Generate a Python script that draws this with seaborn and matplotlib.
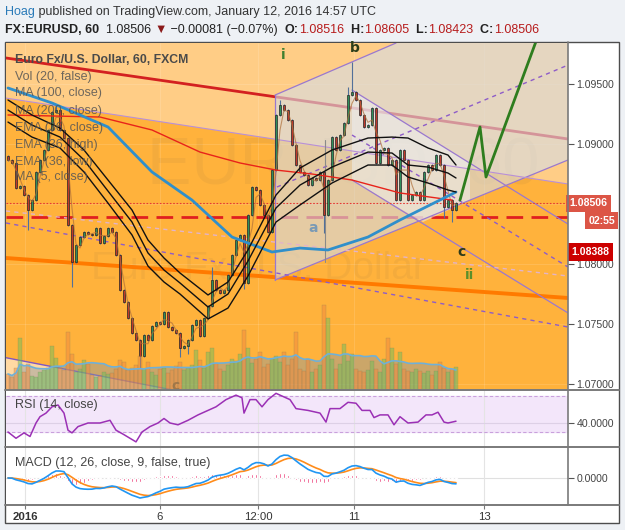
import numpy as np
import pandas as pd
import matplotlib
matplotlib.use("Agg")
import matplotlib.pyplot as plt
import seaborn as sns
from matplotlib.patches import Polygon, Rectangle
from matplotlib.lines import Line2D
from matplotlib.offsetbox import TextArea, HPacker, AnchoredOffsetbox
import matplotlib.transforms as mtrans

# ---------------- data ----------------
closes = [1.08867, 1.08842, 1.08633, 1.08650, 1.08575, 1.08450, 1.08533, 1.08767, 1.08867, 1.08950,
          1.09117, 1.09267, 1.09283, 1.09117, 1.09050, 1.08325, 1.08017, 1.08158, 1.08225, 1.08267,
          1.08250, 1.08242, 1.08300, 1.08175, 1.08233, 1.08300, 1.08267, 1.08075, 1.07783, 1.07683,
          1.07550, 1.07425, 1.07367, 1.07233, 1.07408, 1.07367, 1.07483, 1.07517, 1.07500, 1.07600,
          1.07475, 1.07450, 1.07425, 1.07300, 1.07317, 1.07367, 1.07492, 1.07533, 1.07400, 1.07550,
          1.07650, 1.07867, 1.07783, 1.07758, 1.07783, 1.07908, 1.08075, 1.08200, 1.08242, 1.07842,
          1.08408, 1.08642, 1.08617, 1.08492, 1.08408, 1.08267, 1.08783, 1.09242, 1.09325, 1.09283,
          1.09200, 1.08992, 1.08825, 1.08767, 1.08742, 1.08658, 1.08717, 1.08700, 1.08767, 1.08408,
          1.08700, 1.09058, 1.08950, 1.09075, 1.09175, 1.09408, 1.09433, 1.09367, 1.09242, 1.09142,
          1.09158, 1.09300, 1.08842, 1.08950, 1.08967, 1.08825, 1.08867, 1.08533, 1.08950, 1.08867,
          1.08533, 1.08575, 1.08600, 1.08533, 1.08767, 1.08825, 1.08783, 1.08908, 1.08825, 1.08475,
          1.08533, 1.08450, 1.08506]
first_open = 1.08900
volumes = [16, 13, 22, 52, 18, 26, 14, 13, 18, 20, 22, 44, 32, 22, 20, 58, 36, 18, 21, 30,
           26, 15, 13, 14, 18, 16, 17, 21, 30, 28, 20, 22, 25, 34, 21, 28, 18, 15, 21, 22,
           17, 20, 24, 28, 20, 22, 25, 40, 30, 22, 38, 42, 27, 21, 19, 25, 31, 29, 36, 60,
           42, 27, 31, 38, 23, 26, 31, 34, 28, 38, 25, 31, 58, 21, 19, 31, 18, 21, 25, 85,
           72, 31, 21, 26, 46, 29, 36, 21, 19, 18, 20, 29, 21, 18, 31, 52, 42, 26, 38, 21,
           19, 18, 21, 19, 17, 19, 15, 19, 28, 22, 18, 21, 23]
wick_high = {12: 1.09325, 51: 1.07975, 68: 1.09367, 85: 1.09475, 86: 1.09683}
wick_low = {5: 1.08283, 16: 1.07808, 33: 1.07133, 43: 1.07225, 45: 1.07250,
            59: 1.07792, 79: 1.08258, 109: 1.08383, 111: 1.08350}

ema_idx = [0, 6, 13, 19, 25, 31, 35, 39, 43, 50, 55, 60, 67, 73, 81, 90, 96, 100, 105, 110, 112]
ema_high = [1.09367, 1.09242, 1.09133, 1.08950, 1.08700, 1.08450, 1.08200, 1.08050, 1.07925, 1.07742,
            1.07850, 1.08117, 1.08575, 1.08800, 1.08950, 1.09050, 1.09058, 1.09050, 1.08967, 1.08908, 1.08825]
ema_close = [1.09283, 1.09158, 1.09058, 1.08867, 1.08608, 1.08350, 1.08092, 1.07950, 1.07842, 1.07642,
             1.07750, 1.08025, 1.08467, 1.08658, 1.08808, 1.08933, 1.08925, 1.08825, 1.08808, 1.08758, 1.08717]
ema_low = [1.09183, 1.09058, 1.08967, 1.08767, 1.08508, 1.08242, 1.07983, 1.07850, 1.07750, 1.07542,
           1.07633, 1.07900, 1.08350, 1.08492, 1.08675, 1.08825, 1.08825, 1.08725, 1.08675, 1.08617, 1.08600]
ma100_idx = [0, 11, 25, 36, 46, 56, 66, 73, 80, 90, 98, 112]
ma100 = [1.09467, 1.09342, 1.09142, 1.08767, 1.08533, 1.08225, 1.08100, 1.08133, 1.08117, 1.08225, 1.08367, 1.08600]
ma200_idx = [0, 23, 36, 48, 58, 67, 76, 86, 98, 111]
ma200 = [1.09242, 1.09225, 1.09117, 1.08933, 1.08842, 1.08783, 1.08750, 1.08700, 1.08592, 1.08533]

rsi_idx = [0, 2, 4, 5.5, 7, 8, 9.5, 11, 12.5, 14, 15, 16, 17.5, 20, 23, 25.5, 27, 29, 32, 33.5,
           35.5, 37.5, 39, 40.5, 42.5, 45, 47.5, 50, 52, 54.5, 57, 58.5, 59, 60.5, 62, 63.5, 65, 67, 69, 70.5,
           72, 75, 78, 79.5, 80.5, 83, 85, 87, 88.5, 90.5, 91.5, 93, 95, 96.5, 98, 100, 102.5, 104.5, 106, 107.5,
           109, 110, 111, 112]
rsi_val = [30, 23, 29, 25, 40, 47, 51, 58, 60, 51, 32, 29, 36, 40, 40, 43, 32, 27, 19, 30,
           36, 40, 45, 40, 38, 43, 49, 54, 58, 66, 71, 68, 51, 66, 66, 58, 66, 73, 69, 66,
           56, 54, 51, 41, 56, 56, 63, 62, 54, 54, 46, 49, 49, 38, 47, 40, 41, 49, 49, 52,
           41, 40, 41, 42]

tick_pos = [4.25, 38, 62.5, 86.5, 119]
tick_labels = ["2016", "6", "12:00", "11", "13"]
price_ticks = [1.070, 1.075, 1.080, 1.090, 1.095]
last_price = 1.08506
level_price = 1.08388

# chart drawings (anchor points as bar index, price)
red_trend = [(-0.5, 1.09717), (140, 1.09042)]
line_b = [(-0.5, 1.09383), (140, 1.08667)]
orange_trend = [(-0.5, 1.08050), (140, 1.07717)]
dash_low = [(-0.5, 1.08342), (140, 1.07475)]
dash_pale = [(-0.5, 1.08442), (140, 1.07900)]
beige_poly = [(66.75, 1.09408), (97, 1.09842), (140, 1.09900), (140, 1.08867), (66.75, 1.07867)]
beige_median = [(67.25, 1.08642), (140, 1.09658)]
chan_poly = [(86, 1.09450), (115.5, 1.08840), (115.5, 1.08533), (103.75, 1.08350), (86, 1.08700)]
chan_top = [(86, 1.09450), (140, 1.08333)]
chan_bot = [(86, 1.08700), (140, 1.07592)]
chan_median = [(86, 1.09075), (140, 1.07975)]
bl_line = [(-0.5, 1.07219), (41.25, 1.06950)]
green_proj = [(113, 1.08533), (118, 1.09142), (119.5, 1.08725), (132.5, 1.09900)]
a_line = [(79.25, 1.09033), (79.25, 1.08017)]
wave_labels = [("i", 68.75, 1.09742, "#3f7f2f"), ("b", 86.75, 1.09800, "#2c3e1a"),
               ("a", 76.25, 1.08300, "#7a9ab5"), ("c", 113.5, 1.08100, "#2e3a1a"),
               ("ii", 115.5, 1.07910, "#5a8f2a"), ("c", 41.75, 1.06985, "#2e3a1a")]

# ---------------- figure ----------------
sns.set_theme(style="white")
plt.rcParams["font.family"] = ["Liberation Sans", "DejaVu Sans"]
W, H = 625, 530
fig = plt.figure(figsize=(6.25, 5.30), dpi=100)
fig.patch.set_facecolor("#eef1f5")

def rect(x0, y0, x1, y1):
    return [x0 / W, 1 - y1 / H, (x1 - x0) / W, (y1 - y0) / H]

fig.add_artist(Rectangle((5 / W, 1 - 523 / H), 614 / W, 481 / H, transform=fig.transFigure,
                         fc="white", ec="#4d4d4d", lw=1.0, zorder=-5))

ax = fig.add_axes(rect(6, 43, 568, 390))
rax = fig.add_axes(rect(6, 390, 568, 447), sharex=ax)
max_ = fig.add_axes(rect(6, 447, 568, 505), sharex=ax)
vax = fig.add_axes(rect(6, 43, 568, 390), sharex=ax)

n = len(closes)
idx = np.arange(n)
ax.set_xlim(-0.5, 140)
ax.set_ylim(1.06950, 1.09842)
ax.set_facecolor("#ffb23c")

def seg(pts, **kw):
    xs, ys = zip(*pts)
    ax.plot(xs, ys, **kw)

# background regions
top = 1.0995
ax.add_patch(Polygon([line_b[0], line_b[1], (140, top), (-0.5, top)], closed=True,
                     fc="#ffcd86", ec="none", zorder=0.5))
ax.add_patch(Polygon([bl_line[0], bl_line[1], (-0.5, 1.0690)], closed=True,
                     fc="#ffd9a3", ec="none", zorder=0.5))
# watermark
ax.text(0.60, 0.64, "EURUSD, 60", transform=ax.transAxes, fontsize=48, color="#4a4a4a",
        alpha=0.06, ha="center", va="center", zorder=0.8)
ax.text(0.45, 0.35, "Euro Fx/U.S. Dollar", transform=ax.transAxes, fontsize=28, color="#4a4a4a",
        alpha=0.06, ha="center", va="center", zorder=0.8)

# lines below overlays
seg(red_trend, color="#d32020", lw=2.0, zorder=1)
seg(orange_trend, color="#ff7a00", lw=2.8, zorder=1)
ax.axhline(level_price, color="#e01f1f", lw=2.0, ls=(0, (6, 3)), zorder=1)

# overlays
ax.add_patch(Polygon(beige_poly, closed=True, fc="#d6dce4", alpha=0.62, ec="none", zorder=2))
ax.add_patch(Polygon(chan_poly, closed=True, fc="#eef1f6", alpha=0.5, ec="none", zorder=2.2))

# drawing lines
purple = "#9a78cf"
seg([beige_poly[0], beige_poly[1]], color=purple, lw=0.9, zorder=3)
seg([beige_poly[0], beige_poly[4]], color=purple, lw=0.9, zorder=3)
seg([beige_poly[4], (140, 1.08867)], color=purple, lw=0.9, zorder=3)
seg(chan_top, color=purple, lw=0.9, zorder=3)
seg(chan_bot, color=purple, lw=0.9, zorder=3)
seg(line_b, color="#b890d8", lw=0.8, zorder=3)
seg(bl_line, color="#7e57c2", lw=1.0, zorder=3)
seg(beige_median, color="#8e5cc8", lw=1.0, ls=(0, (3, 3)), zorder=3)
seg(chan_median, color="#8e5cc8", lw=1.0, ls=(0, (3, 3)), zorder=3)
seg(dash_low, color="#8e5cc8", lw=1.0, ls=(0, (3, 3)), zorder=3)
seg(dash_pale, color="#e3b3c8", lw=1.0, ls=(0, (3, 3)), zorder=3)
seg(a_line, color="#8a8a8a", lw=0.8, zorder=3)
ax.axhline(last_price, color="#e53935", lw=0.8, ls=(0, (1.5, 1.5)), zorder=3)

# candles
opens = [first_open] + closes[:-1]
for i, (o, c) in enumerate(zip(opens, closes)):
    up = c >= o
    hi = wick_high.get(i, max(o, c) + 0.0001)
    lo = wick_low.get(i, min(o, c) - 0.0001)
    ax.vlines(i, lo, hi, color="#52709a", lw=0.8, zorder=5)
    b0 = min(o, c)
    h = max(abs(c - o), 0.00004)
    ax.add_patch(Rectangle((i - 0.33, b0), 0.66, h, fc="#2f8f5b" if up else "#c0392b",
                           ec="#262626", lw=0.5, zorder=6))

# moving averages
s = pd.Series(closes)
ma5 = s.rolling(3, min_periods=1).mean()
sns.lineplot(x=idx, y=ma5.values, ax=ax, color="#b0703a", lw=0.8, alpha=0.7, zorder=6.5, legend=False)
sns.lineplot(x=ma200_idx, y=ma200, ax=ax, color="#e8231a", lw=1.0, zorder=7, legend=False)
sns.lineplot(x=ma100_idx, y=ma100, ax=ax, color="#2f8fcb", lw=2.0, zorder=7, legend=False)
for arr in (ema_high, ema_close, ema_low):
    sns.lineplot(x=ema_idx, y=arr, ax=ax, color="#111111", lw=1.0, zorder=7, legend=False)
gx, gy = zip(*green_proj)
sns.lineplot(x=list(gx), y=list(gy), ax=ax, color="#2e7d1e", lw=2.0, zorder=8, legend=False, sort=False)

for t, x, y, col in wave_labels:
    ax.text(x, y, t, color=col, fontsize=10, fontweight="bold", ha="center", va="center", zorder=9,
            family="DejaVu Sans")

# legend texts
ax.text(0.016, 0.951, "Euro Fx/U.S. Dollar, 60, FXCM", transform=ax.transAxes, fontsize=8.8,
        fontweight="bold", color="#4a4a4a", va="center", zorder=10)
for k, (t, yy) in enumerate([("Vol (20, false)", 0.902), ("MA (100, close)", 0.856),
                             ("MA (200, close)", 0.804), ("EMA (36, close)", 0.755),
                             ("EMA (36, high)", 0.706), ("EMA (36, low)", 0.657),
                             ("MA (5, close)", 0.614)]):
    ax.text(0.016, yy, t, transform=ax.transAxes, fontsize=9, color="#555555", alpha=0.85,
            va="center", zorder=10)

# grid + axes styling
for p in price_ticks + [1.085]:
    ax.axhline(p, color="#ffffff", lw=0.5, alpha=0.18, zorder=0.6)
for t in tick_pos:
    ax.axvline(t, color="#ffffff", lw=0.5, alpha=0.18, zorder=0.6)
ax.yaxis.tick_right()
ax.set_yticks(price_ticks)
ax.set_yticklabels([f"{p:.5f}" for p in price_ticks])
ax.tick_params(axis="y", right=True, length=4, width=0.8, color="#555555", labelsize=7.6,
               labelcolor="#444444", pad=2)
ax.tick_params(axis="x", bottom=False, labelbottom=False)
for sp in ax.spines.values():
    sp.set_visible(False)
ax.set_xlabel(""); ax.set_ylabel("")

# price labels
bt = mtrans.blended_transform_factory(ax.transAxes, ax.transData)
ax.text(1.003, last_price, "1.08506", transform=bt, fontsize=7.6, fontweight="bold", color="white",
        va="center", ha="left", bbox=dict(boxstyle="square,pad=0.35", fc="#dc5546", ec="none"),
        clip_on=False, zorder=20)
ax.annotate("02:55", xy=(1.0, last_price), xycoords=bt, xytext=(34, -12.5), textcoords="offset points",
            fontsize=7.6, fontweight="bold", color="white", va="center", ha="right",
            bbox=dict(boxstyle="square,pad=0.3", fc="#dc5546", ec="none"), annotation_clip=False, zorder=20)
ax.annotate("1.08388", xy=(1.0, level_price), xycoords=bt, xytext=(2.5, -25), textcoords="offset points",
            fontsize=7.6, fontweight="bold", color="white", va="center", ha="left",
            bbox=dict(boxstyle="square,pad=0.35", fc="#cc0000", ec="none"), annotation_clip=False, zorder=20)

# volume
vax.set_ylim(0, 347)
vax.patch.set_visible(False)
vax.axis("off")
vol_ma = pd.Series(volumes).rolling(14, min_periods=1).mean()
vax.fill_between(idx, 0, vol_ma.values, color="#8c98a0", alpha=0.45, lw=0, zorder=1)
for i, v in enumerate(volumes):
    up = closes[i] >= opens[i]
    vax.bar(i, v, width=0.8, color="#6fbf5a" if up else "#f08a3c", alpha=0.5,
            edgecolor="#7a7a5a", linewidth=0.3, zorder=2)
sns.lineplot(x=idx, y=vol_ma.values, ax=vax, color="#6fb0d8", lw=1.2, zorder=3, legend=False)
vax.set_xlim(-0.5, 140)

# RSI panel
rax.set_ylim(13.3, 76.7)
rax.set_facecolor("white")
rax.axhspan(30, 70, color="#f3e6fa", zorder=0)
rax.axhline(70, color="#c9a0dc", lw=0.8, ls=(0, (3, 2)), zorder=1)
rax.axhline(30, color="#c9a0dc", lw=0.8, ls=(0, (3, 2)), zorder=1)
rax.axhline(40, color="#ddd0e6", lw=0.8, zorder=1)
for t in tick_pos:
    rax.axvline(t, color="#e4e4e4", lw=0.8, zorder=0.5)
sns.lineplot(x=rsi_idx, y=rsi_val, ax=rax, color="#9b30b5", lw=1.1, zorder=3, legend=False)
rax.text(0.016, 0.74, "RSI (14, close)", transform=rax.transAxes, fontsize=9, color="#444444",
         va="center", zorder=5)
rax.yaxis.tick_right()
rax.set_yticks([40])
rax.set_yticklabels(["40.0000"])
rax.tick_params(axis="y", right=True, length=4, width=0.8, color="#555555", labelsize=7.6,
                labelcolor="#444444", pad=2)
rax.tick_params(axis="x", bottom=False, labelbottom=False)
for sp in rax.spines.values():
    sp.set_visible(False)
rax.set_xlabel(""); rax.set_ylabel("")

# MACD panel (computed from the closes)
ema_f = s.ewm(span=8, adjust=False).mean()
ema_s = s.ewm(span=17, adjust=False).mean()
macd = ema_f - ema_s
signal = macd.ewm(span=6, adjust=False).mean()
hist = macd - signal
k = max(macd.max() / 27.0, -macd.min() / 20.0)
max_.set_ylim(-27 * k, 31 * k)
max_.set_facecolor("white")
max_.axhline(0, color="#e0e0e0", lw=0.8, zorder=0.5)
for t in tick_pos:
    max_.axvline(t, color="#e4e4e4", lw=0.8, zorder=0.5)
max_.bar(idx, hist.values, width=0.35, color="#e91e63", zorder=2)
sns.lineplot(x=idx, y=signal.values, ax=max_, color="#ff8c1a", lw=1.2, zorder=3, legend=False)
sns.lineplot(x=idx, y=macd.values, ax=max_, color="#2196f3", lw=1.2, zorder=4, legend=False)
max_.text(0.016, 0.72, "MACD (12, 26, close, 9, false, true)", transform=max_.transAxes, fontsize=9,
          color="#444444", va="center", zorder=5)
max_.yaxis.tick_right()
max_.set_yticks([0])
max_.set_yticklabels(["0.0000"])
max_.tick_params(axis="y", right=True, length=4, width=0.8, color="#555555", labelsize=7.6,
                 labelcolor="#444444", pad=2)
max_.set_xticks(tick_pos)
max_.set_xticklabels(tick_labels)
max_.tick_params(axis="x", bottom=True, length=3, width=0.8, color="#777777", labelsize=8.2,
                 labelcolor="#333333", pad=2)
max_.get_xticklabels()[0].set_fontweight("bold")
for sp in max_.spines.values():
    sp.set_visible(False)
max_.set_xlabel(""); max_.set_ylabel("")
max_.set_xlim(-0.5, 140)

# separators
for yy in (390, 447, 505):
    fig.add_artist(Line2D([5 / W, 619 / W], [1 - yy / H, 1 - yy / H], transform=fig.transFigure,
                          color="#7a7a7a", lw=1.4, zorder=30))
fig.add_artist(Line2D([568 / W, 568 / W], [1 - 42 / H, 1 - 505 / H], transform=fig.transFigure,
                      color="#7a7a7a", lw=1.2, zorder=30))

# header
def tarea(t, color="#222222", weight="normal", size=9.0):
    return TextArea(t, textprops=dict(color=color, fontweight=weight, fontsize=size,
                                      family=["Liberation Sans", "DejaVu Sans"]))

line1 = HPacker(children=[tarea("Hoag", "#2a7ab8"),
                          tarea(" published on TradingView.com, January 12, 2016 14:57 UTC", "#333333")],
                align="baseline", pad=0, sep=0)
red = "#b71c1c"
line2 = HPacker(children=[tarea("FX:EURUSD, 60", weight="bold"), tarea("  1.08506 "),
                          tarea("\u25BC", "#8b1a1a"), tarea(" \u22120.00081 (\u22120.07%)  "),
                          tarea("O:", weight="bold"), tarea("1.08516", red),
                          tarea("  H:", weight="bold"), tarea("1.08605", red),
                          tarea("  L:", weight="bold"), tarea("1.08423", red),
                          tarea("  C:", weight="bold"), tarea("1.08506", red)],
                align="baseline", pad=0, sep=0)
for box, yy in ((line1, 12), (line2, 30)):
    fig.add_artist(AnchoredOffsetbox(loc="center left", child=box, bbox_to_anchor=(5 / W, 1 - yy / H),
                                     bbox_transform=fig.transFigure, frameon=False, pad=0, borderpad=0))

fig.savefig("out.png", dpi=100, facecolor=fig.get_facecolor())
